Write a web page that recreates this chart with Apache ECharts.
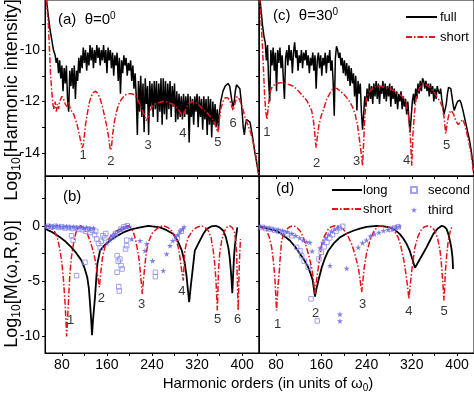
<!DOCTYPE html>
<html><head><meta charset="utf-8">
<script src="https://cdn.jsdelivr.net/npm/echarts@6/dist/echarts.min.js"></script>
<style>html,body{margin:0;padding:0;background:#fff}#c{width:474px;height:399px}</style>
</head><body><div id="c"></div>
<script>
// ---------- DATA ----------
const xLabelTicks = [80, 160, 240, 320, 400];
const xMinorTicks = [80, 120, 160, 200, 240, 280, 320, 360, 400];
const topYLabels = [-14, -12, -10];
const topYTicks = [-14, -13, -12, -11, -10, -9];
const botYLabels = [-10, -5, 0];
const botYTicks = [-10, -7.5, -5, -2.5, 0, 2.5];

// Panel (a): theta = 0
const fullA = [[50,-7.6],[53,-8.1],[56,-8.7],[59,-9.2],[62,-9.6],[65,-10.0],[68,-10.2],[70,-10.5],[72,-10.3],[74,-10.9],[76,-10.4],[78,-11.1],[80,-10.6],[82,-11.6],[84,-10.7],[86,-11.3],[88,-10.6],[90,-11.9],[92,-12.4],[94,-10.8],[96,-11.4],[98,-10.7],[100,-11.5],[102,-10.6],[104,-11.9],[106,-10.8],[108,-11.2],[110,-10.3],[112,-10.9],[114,-10.2],[116,-10.7],[118,-9.9],[120,-10.5],[122,-10.0],[124,-10.8],[126,-10.1],[128,-10.6],[130,-9.8],[132,-10.4],[134,-9.9],[136,-10.7],[138,-10.0],[140,-10.5],[142,-9.8],[144,-10.3],[146,-9.9],[148,-10.6],[150,-10.0],[152,-10.4],[154,-9.8],[156,-10.5],[158,-10.0],[160,-10.9],[162,-9.9],[164,-10.4],[166,-10.0],[168,-10.7],[170,-10.1],[172,-11.0],[174,-10.2],[176,-10.6],[178,-10.1],[180,-11.2],[182,-10.3],[184,-11.7],[186,-10.4],[188,-10.9],[190,-10.2],[192,-10.6],[194,-10.3],[196,-11.0],[198,-10.5],[200,-10.8],[202,-10.4],[204,-11.2],[206,-10.6],[208,-11.5],[210,-10.9],[212,-11.8],[214,-13.3],[216,-11.2],[218,-12.4],[220,-11.0],[222,-12.6],[224,-11.3],[226,-13.2],[228,-11.1],[230,-12.1],[232,-11.4],[234,-13.3],[236,-11.2],[238,-12.2],[240,-11.3],[242,-12.6],[244,-11.2],[246,-12.3],[248,-11.2],[250,-12.8],[252,-11.3],[254,-12.4],[256,-11.1],[258,-12.9],[260,-11.1],[262,-12.5],[264,-11.2],[266,-12.7],[268,-11.3],[270,-12.3],[272,-11.2],[274,-12.6],[276,-11.4],[278,-12.2],[280,-11.3],[282,-12.8],[284,-11.6],[286,-12.7],[288,-11.7],[290,-12.6],[292,-11.8],[294,-12.7],[296,-11.7],[298,-12.6],[300,-11.8],[302,-12.5],[304,-11.7],[306,-13.6],[308,-11.8],[310,-12.6],[312,-11.9],[314,-12.9],[316,-11.8],[318,-12.4],[320,-11.7],[322,-13.0],[324,-11.8],[326,-12.6],[328,-11.9],[330,-13.1],[332,-11.8],[334,-12.7],[336,-11.9],[338,-13.3],[340,-11.8],[342,-12.9],[344,-11.9],[346,-13.4],[348,-12.0],[350,-12.9],[352,-12.1],[354,-13.0],[356,-12.3],[358,-13.1],[360,-12.4],[362,-12.0],[364,-11.8],[366,-11.6],[368,-11.5],[370,-11.4],[372,-11.35],[375,-11.3],[378,-11.4],[380,-11.7],[382,-12.0],[384,-12.2],[386,-12.0],[388,-11.6],[390,-11.35],[393,-11.3],[396,-11.5],[398,-11.9],[400,-12.4],[402,-13.0],[404,-13.3],[406,-12.9],[408,-12.7],[411,-12.65],[414,-12.8],[418,-13.3],[422,-13.9],[426,-14.4],[430,-14.9]];
const shortA = [[50,-7.6],[53,-8.2],[56,-9.0],[58,-10.0],[60,-11.0],[62,-11.6],[64,-12.1],[66,-12.3],[68,-12.0],[70,-12.4],[72,-12.1],[74,-12.3],[76,-12.0],[78,-11.9],[80,-11.8],[83,-11.9],[86,-12.1],[89,-12.2],[92,-12.0],[95,-12.3],[98,-12.4],[101,-12.5],[104,-12.7],[107,-12.9],[110,-13.2],[113,-13.5],[116,-13.8],[118,-13.7],[120,-13.3],[122,-12.9],[125,-12.5],[128,-12.1],[132,-11.8],[136,-11.65],[140,-11.6],[144,-11.7],[148,-11.9],[152,-12.2],[156,-12.6],[160,-13.0],[163,-13.4],[166,-13.9],[168,-13.8],[170,-13.3],[173,-12.8],[177,-12.4],[181,-12.1],[186,-11.9],[192,-11.75],[198,-11.7],[204,-11.7],[210,-11.75],[214,-11.9],[218,-12.1],[222,-12.3],[226,-12.5],[230,-12.75],[233,-12.6],[236,-12.4],[240,-12.2],[246,-12.1],[252,-12.05],[258,-12.0],[264,-12.0],[270,-12.05],[276,-12.1],[282,-12.2],[288,-12.35],[292,-12.5],[295,-12.6],[298,-12.4],[302,-12.2],[307,-12.05],[313,-12.0],[318,-12.05],[324,-12.15],[330,-12.3],[336,-12.4],[342,-12.55],[348,-12.7],[352,-12.9],[355,-13.1],[357,-13.2],[359,-12.8],[362,-12.3],[366,-12.0],[370,-11.85],[374,-11.85],[378,-11.95],[381,-12.15],[384,-12.35],[387,-12.1],[391,-11.8],[395,-11.9],[400,-12.2],[405,-12.6],[410,-12.9],[415,-13.2],[420,-13.6],[425,-14.2],[430,-14.9]];
const notesA = [[117.5,-14.1,'1'],[167,-14.35,'2'],[233,-13.7,'3'],[295,-13.25,'4'],[357,-13.6,'5'],[384,-12.85,'6']];

// Panel (c): theta = 30
const fullC = [[50,-7.5],[53,-8.3],[56,-9.0],[59,-9.5],[61,-9.7],[63,-10.4],[65,-9.8],[67,-11.2],[69,-12.0],[71,-10.0],[73,-10.6],[75,-9.9],[77,-10.8],[79,-10.1],[81,-11.6],[83,-10.0],[85,-10.5],[87,-9.9],[89,-10.7],[91,-10.2],[93,-11.1],[95,-11.9],[97,-10.3],[99,-10.0],[101,-10.6],[103,-9.8],[105,-10.4],[107,-10.0],[109,-10.9],[111,-10.1],[113,-9.7],[115,-10.3],[117,-10.0],[119,-10.8],[121,-10.2],[123,-10.5],[125,-10.0],[127,-10.7],[129,-10.1],[131,-10.4],[133,-10.0],[135,-10.6],[137,-10.2],[139,-10.9],[141,-10.3],[143,-10.6],[145,-10.1],[147,-10.8],[149,-10.2],[151,-11.5],[153,-10.4],[155,-10.1],[157,-10.7],[159,-10.2],[161,-11.0],[163,-10.3],[165,-10.6],[167,-10.1],[169,-10.9],[171,-10.2],[173,-10.5],[175,-10.0],[177,-10.8],[179,-10.4],[181,-11.2],[183,-12.55],[185,-10.3],[187,-9.85],[189,-10.0],[191,-10.3],[193,-10.1],[195,-10.6],[197,-10.3],[199,-10.9],[201,-10.4],[203,-11.0],[205,-10.5],[207,-11.2],[209,-10.6],[211,-11.4],[213,-10.7],[215,-11.3],[217,-10.9],[219,-11.8],[221,-11.0],[223,-12.35],[225,-11.2],[227,-11.7],[229,-11.3],[231,-12.4],[233,-13.1],[235,-12.5],[237,-11.8],[239,-12.2],[241,-11.5],[243,-12.0],[245,-11.3],[247,-11.9],[249,-11.4],[251,-12.1],[253,-11.3],[255,-11.8],[257,-11.2],[259,-11.9],[261,-11.3],[263,-12.1],[265,-11.4],[267,-11.7],[269,-11.2],[271,-11.9],[273,-11.3],[275,-12.0],[277,-11.4],[279,-11.8],[281,-11.3],[283,-12.2],[285,-11.4],[287,-11.9],[289,-11.5],[291,-12.1],[293,-11.6],[295,-12.3],[297,-11.7],[299,-12.0],[301,-11.6],[303,-12.3],[305,-11.8],[307,-12.2],[309,-11.9],[311,-12.5],[313,-12.0],[315,-12.7],[317,-13.2],[319,-12.6],[321,-12.0],[323,-11.7],[325,-12.1],[327,-11.5],[329,-11.9],[331,-11.3],[333,-11.7],[335,-11.2],[337,-11.6],[339,-11.1],[341,-11.2],[343,-11.5],[345,-11.2],[347,-11.6],[349,-11.3],[351,-11.8],[353,-11.3],[355,-11.7],[357,-11.4],[359,-12.0],[361,-11.5],[363,-11.9],[365,-11.4],[367,-11.6],[369,-11.7],[371,-11.5],[373,-11.9],[375,-12.2],[377,-12.5],[379,-12.5],[381,-12.1],[383,-11.7],[385,-11.45],[387,-11.4],[389,-11.5],[391,-11.8],[393,-12.1],[395,-12.35],[397,-12.3],[399,-12.1],[401,-12.0],[403,-11.95],[405,-11.95],[407,-12.05],[410,-12.3],[413,-12.6],[416,-12.9],[419,-13.2],[422,-13.5],[425,-13.9],[428,-14.4],[430,-14.9]];
const shortC = [[50,-7.5],[53,-8.6],[56,-9.8],[58,-10.8],[60,-11.8],[62,-12.4],[64,-12.7],[66,-12.3],[68,-11.9],[70,-11.6],[73,-11.45],[77,-11.35],[82,-11.3],[87,-11.27],[92,-11.27],[98,-11.3],[104,-11.35],[110,-11.4],[116,-11.5],[122,-11.65],[128,-11.8],[134,-11.95],[139,-12.15],[143,-12.35],[146,-12.7],[148,-13.1],[150,-13.6],[151,-13.8],[153,-13.4],[156,-12.9],[160,-12.55],[164,-12.3],[170,-11.9],[176,-11.65],[180,-11.52],[184,-11.47],[188,-11.5],[194,-11.6],[200,-11.72],[205,-11.85],[210,-12.0],[215,-12.2],[220,-12.5],[224,-12.9],[227,-13.4],[230,-13.9],[233,-14.5],[235,-13.6],[237,-12.6],[240,-11.85],[244,-11.65],[250,-11.5],[257,-11.42],[264,-11.4],[272,-11.45],[281,-11.5],[290,-11.6],[298,-11.7],[305,-11.85],[310,-12.1],[314,-12.5],[317,-13.2],[320,-14.5],[322,-13.3],[325,-12.4],[328,-11.85],[333,-11.5],[340,-11.3],[346,-11.35],[352,-11.45],[358,-11.6],[364,-11.8],[370,-12.0],[374,-12.2],[377,-12.6],[380,-13.25],[383,-12.8],[386,-12.45],[390,-12.35],[394,-12.5],[398,-12.75],[402,-12.9],[406,-12.8],[410,-12.7],[414,-12.9],[418,-13.3],[422,-13.7],[426,-14.2],[430,-14.9]];
const notesC = [[64,-13.2,'1'],[152,-14.4,'2'],[222.6,-14.35,'3'],[311,-14.3,'4'],[381.6,-13.7,'5']];

// Panel (b): theta = 0
const longB = [[50,-0.27],[60,-0.5],[70,-0.8],[77,-1.05],[87,-1.45],[97,-1.95],[106,-2.5],[115,-3.15],[120,-3.8],[125,-4.65],[128,-5.7],[130,-7.05],[132,-8.5],[133.5,-9.9],[135,-8.7],[137,-7.5],[138.8,-6.45],[141,-4.8],[143,-3.45],[147.7,-2.25],[155,-1.8],[165,-1.35],[177,-0.95],[189,-0.6],[203,-0.33],[219,-0.15],[233.5,0],[254,-0.15],[266,-0.4],[278,-0.75],[286,-1.4],[293,-2.25],[298,-3.3],[301.6,-4.65],[304,-5.9],[306,-6.9],[309,-5.4],[312,-4.05],[316,-2.25],[325,-1.35],[331,-0.75],[337,-0.3],[345,-0.06],[353,0],[360,-0.15],[366.6,-0.45],[371,-1.0],[375.5,-1.95],[378,-2.9],[380,-4.05],[381.5,-5.1],[382.6,-6.1],[384,-4.5],[385.6,-2.85],[387,-1.9],[389,-1.05],[391.5,-0.15]];
const shortB = [[50,-0.1],[56,0],[62,-0.2],[68,-0.6],[73,-1.3],[77,-2.3],[80,-3.4],[83,-5.0],[86,-7.3],[88.5,-10],[91,-7.5],[94,-4.5],[97,-2.8],[101,-1.5],[105,-0.6],[110,-0.1],[114,0],[119,-0.2],[125,-0.7],[131,-1.5],[136,-2.4],[140,-3.3],[143,-4.4],[146.5,-5.55],[149,-4.3],[152,-2.9],[157,-1.8],[165,-1.05],[174,-0.55],[183,-0.3],[191,-0.08],[198,0],[203,-0.2],[207,-0.6],[211,-1.3],[215.7,-2.55],[218,-3.5],[220,-4.65],[222.8,-6.15],[225,-4.8],[227.6,-3.45],[230,-2.4],[233.4,-1.5],[240,-0.7],[248,-0.3],[254,-0.08],[260,0],[268,-0.15],[275,-0.45],[281,-1.0],[286.7,-1.95],[290,-3.0],[292.7,-4.05],[295.6,-4.95],[298,-2.4],[301,-1.6],[304.5,-1.05],[311,-0.5],[319,-0.15],[328,0],[334,-0.15],[340,-0.45],[345,-1.1],[348.8,-2.25],[351.5,-3.5],[353.6,-4.95],[356,-7.65],[358,-4.2],[360,-2.6],[363.7,-1.35],[368,-0.55],[372.6,-0.15],[378,0],[382,-0.15],[386,-0.45],[388.5,-1.3],[390.3,-2.55],[391.5,-4.95],[393,-7.65],[395,-3.5],[397,-1.2]];
const secondB = [[56,-0.05],[62,-0.1],[68,-0.05],[74,-0.15],[80,-0.1],[86,-0.2],[92,-0.15],[97,-0.9],[100,-1.3],[98,-0.25],[104,-0.2],[106,-4.5],[110,-0.3],[116,-0.35],[121,-3.3],[122,-0.5],[126,-0.3],[130,-0.6],[134,-0.4],[138,-0.8],[140,-0.5],[142,-1.2],[145,-1.6],[148,-2.0],[150,-1.4],[153,-0.9],[156,-1.1],[158,-0.7],[170,-1.0],[175,-0.7],[178,-2.7],[180,-3.2],[183,-3.0],[185,-3.6],[178,-4.2],[181,-5.5],[182,-5.9],[187,-3.9],[185,-0.3],[190,-0.1],[193,-2.1],[195,-1.8],[195,-1.3],[196,0],[246,-4.2],[246,-4.6],[285,-1.1],[292,-0.5]];
const thirdB = [[52,-0.05],[58,0],[64,-0.08],[70,0],[76,-0.05],[82,-0.1],[88,-0.05],[94,-0.1],[100,-0.08],[106,-0.15],[112,-0.1],[118,-0.2],[124,-0.15],[130,-0.25],[136,-0.2],[160,-1.6],[165,-1.3],[170,-0.95],[175,-0.7],[180,-0.5],[185,-0.35],[190,-0.2],[195,-0.1],[200,-0.05],[204,-1.2],[218.7,-1.35],[227.5,-2.25],[230.6,-1.65],[241,-3.15],[260,-4.05],[266,-2.55],[272,-1.8],[277,-1.35],[282,-1.0],[286,-0.8],[290,-0.5],[294,-0.3],[297,-0.1]];
const notesB = [[95.6,-8.55,'1'],[150,-6.6,'2'],[221.7,-7.1,'3'],[293,-5.9,'4'],[356.6,-8.5,'5'],[392,-8.5,'6']];

// Panel (d): theta = 30
const longD = [[50.5,-0.1],[65,-0.25],[81,-0.45],[93,-0.85],[105,-1.35],[114,-1.9],[122.5,-2.55],[130,-3.1],[137,-3.75],[141,-4.3],[145,-4.95],[147,-5.7],[149,-6.4],[151,-5.8],[155,-4.95],[161,-3.75],[166,-3.0],[172.5,-2.25],[182,-1.6],[193,-1.05],[205,-0.7],[216.6,-0.45],[228,-0.25],[240,-0.1],[258,0],[270,-0.05],[281.5,-0.15],[291,-0.4],[299,-0.75],[305,-1.15],[311,-1.65],[316,-2.2],[320,-2.85],[323,-3.35],[325.6,-3.8],[329,-3.5],[334.5,-3.0],[340,-2.5],[346,-1.95],[352,-1.35],[358,-0.75],[365,-0.3],[373,0],[378,-0.1],[381.6,-0.3],[385,-0.8],[387.5,-1.35],[390,-2.0],[392,-2.85],[393,-3.9]];
const shortD = [[51,0],[58,-0.15],[63.6,-0.45],[68,-1.0],[72.4,-1.95],[75,-3.0],[78,-4.65],[81,-7.65],[83.5,-5.5],[86,-4.05],[88,-2.5],[90,-1.35],[94,-0.7],[99,-0.3],[105,-0.08],[110.6,0],[116,-0.12],[122.5,-0.45],[128,-1.0],[134,-1.95],[138.5,-2.8],[143,-3.75],[146,-4.8],[149,-6.15],[152,-4.8],[155,-3.75],[158,-2.6],[161,-1.65],[166,-0.9],[172.5,-0.3],[178,-0.08],[184,0],[191,-0.08],[199,-0.3],[206,-0.8],[213.8,-1.65],[219,-2.5],[225.5,-3.75],[228.5,-4.8],[231.4,-6.0],[234,-4.8],[236,-3.75],[240,-2.5],[246,-1.35],[252,-0.6],[258,-0.15],[264,0],[272,-0.05],[281.5,-0.15],[289,-0.45],[296,-1.05],[301,-1.9],[306,-3.15],[309,-4.1],[312,-5.25],[315,-6.6],[317.5,-5.3],[320,-4.05],[323,-2.9],[325.6,-1.95],[331,-0.95],[337.5,-0.3],[343,-0.08],[349,0],[355,-0.12],[361,-0.45],[366,-1.2],[370,-2.25],[372.5,-3.5],[374.6,-4.95],[377,-6.75],[379.6,-4.0],[382,-2.5],[384.5,-1.35],[388,-0.5],[390.5,-0.15],[393,-0.3]];
const secondD = [[55,-0.15],[62,-0.25],[70,-0.3],[78,-0.4],[85,-0.5],[92,-0.6],[100,-0.75],[108,-0.9],[116.6,-1.95],[122.5,-2.25],[125.5,-2.7],[130,-3.2],[137,-3.75],[142,-6.6],[153,-8.6],[156,-3.0],[160,-2.4],[165,-1.9],[170,-1.5],[175,-1.1],[180,-0.8],[186,-0.5],[192,-0.2],[198,-0.05],[283,-0.3],[290,-0.2],[296,-0.1]];
const thirdD = [[52,-0.05],[60,-0.1],[68,-0.2],[76,-0.3],[84,-0.35],[92,-0.45],[100,-0.55],[108,-0.7],[115,-0.9],[122,-1.1],[128,-1.3],[134,-1.45],[140,-1.5],[144,-2.3],[158,-2.0],[163,-1.5],[168,-1.1],[173,-0.8],[178,-0.5],[184,-0.3],[190,-0.15],[175.5,-3.6],[193,-8.0],[193,-8.6],[205,-3.85],[225.5,-1.95],[233,-1.55],[240,-1.3],[247,-0.95],[254,-0.75],[262,-0.6],[270,-0.45],[278,-0.35],[286,-0.25],[292,-0.12],[298,-0.05]];
const notesD = [[83,-8.9,'1'],[150,-7.9,'2'],[233,-7.1,'3'],[315,-7.7,'4'],[377,-7.7,'5']];

// ---------- STYLE / BUILD ----------
const FONT = 'Liberation Sans, Arial, sans-serif';
const RED = '#e3141c';
const SQ = '#8a8af2';
const ST = '#5f5fe0';
const STAR = 'path://M50,0 L61,35 L98,35 L68,57 L79,91 L50,70 L21,91 L32,57 L2,35 L39,35 Z';
const DASHDOT = [6, 2, 1.5, 2];
const CLEAR = 'rgba(0,0,0,0)';

const grids = [
  {left: 45, top: -1, width: 214, height: 177},
  {left: 45, top: 176, width: 214, height: 177},
  {left: 259, top: -1, width: 216, height: 177},
  {left: 259, top: 176, width: 216, height: 177}
].map(g => Object.assign({show: true, borderColor: '#000', borderWidth: 1, containLabel: false}, g));

function xAx(i, labels) {
  return {type: 'value', gridIndex: i, min: 50, max: 430, splitLine: {show: false},
    axisLine: {show: true, onZero: false, lineStyle: {color: '#000', width: 1}},
    axisTick: {show: true, length: 3, lineStyle: {color: '#000'}, customValues: xMinorTicks},
    axisLabel: {show: labels, color: '#000', fontSize: 14, fontFamily: FONT, margin: 5, customValues: xLabelTicks}};
}
function yAx(i, top, labels) {
  return {type: 'value', gridIndex: i, min: top ? -14.9 : -11.5, max: top ? -8.05 : 4.5,
    splitLine: {show: false},
    axisLine: {show: true, onZero: false, lineStyle: {color: '#000', width: 1}},
    axisTick: {show: true, length: 3, lineStyle: {color: '#000'}, customValues: top ? topYTicks : botYTicks},
    axisLabel: {show: labels, color: '#000', fontSize: 14, fontFamily: FONT, margin: 5, customValues: top ? topYLabels : botYLabels}};
}

function line(name, data, i, red, w) {
  return {type: 'line', name, data, xAxisIndex: i, yAxisIndex: i, symbol: 'none', showSymbol: false,
    lineStyle: red ? {color: RED, width: 1.5, type: DASHDOT} : {color: '#000', width: w || 1.5},
    itemStyle: {color: red ? RED : '#000'}, z: red ? 3 : 2, animation: false};
}
function pts(name, data, i, star) {
  return {type: 'scatter', name, data, xAxisIndex: i, yAxisIndex: i,
    symbol: star ? STAR : 'rect', symbolSize: star ? 6 : 4.5,
    itemStyle: star ? {color: ST} : {color: 'rgba(255,255,255,0)', borderColor: SQ, borderWidth: 1},
    z: 4, animation: false};
}
function notes(data, i) {
  return {type: 'scatter', data, xAxisIndex: i, yAxisIndex: i, symbolSize: 1,
    itemStyle: {color: CLEAR}, silent: true, z: 5, animation: false,
    label: {show: true, position: 'inside', formatter: p => p.data[2], color: '#000', fontSize: 13, fontFamily: FONT}};
}

const rich = {
  a: {fontSize: 15, lineHeight: 18, fontFamily: FONT, color: '#000'},
  sup: {fontSize: 10, lineHeight: 10, padding: [0, 0, 8, 0], fontFamily: FONT, color: '#000'},
  sub: {fontSize: 10, lineHeight: 10, padding: [8, 0, 0, 0], fontFamily: FONT, color: '#000'},
  A: {fontSize: 18, lineHeight: 22, fontFamily: FONT, color: '#000'},
  SUB: {fontSize: 12, lineHeight: 12, padding: [10, 0, 0, 0], fontFamily: FONT, color: '#000'}
};
function txt(x, y, text, rot, align) {
  return {type: 'text', x, y, rotation: rot || 0, z: 10,
    style: {text, rich, align: align || 'left', verticalAlign: 'middle'}};
}
const legText = {fontSize: 13, fontFamily: FONT, color: '#000', lineHeight: 16};
const lineLegItem = {color: CLEAR, borderColor: CLEAR, borderWidth: 0};

const option = {
  animation: false,
  grid: grids,
  xAxis: [xAx(0, false), xAx(1, true), xAx(2, false), xAx(3, true)],
  yAxis: [yAx(0, true, true), yAx(1, false, true), yAx(2, true, false), yAx(3, false, false)],
  legend: [
    {data: ['full', 'short'], orient: 'vertical', left: 400, top: 4, padding: 5, itemWidth: 31, itemHeight: 14, itemGap: 4,
     selectedMode: false, itemStyle: lineLegItem, textStyle: Object.assign({padding: [0, 0, 0, -2]}, legText)},
    {data: ['long', 'short'], orient: 'vertical', left: 326, top: 177, padding: 5, itemWidth: 30, itemHeight: 14, itemGap: 3,
     selectedMode: false, itemStyle: lineLegItem, textStyle: Object.assign({padding: [0, 0, 0, -4]}, legText)},
    {data: ['second', 'third'], orient: 'vertical', left: 405, top: 177, padding: 5, itemWidth: 6, itemHeight: 6, itemGap: 4,
     selectedMode: false, textStyle: Object.assign({padding: [0, 0, 0, 6]}, legText)}
  ],
  series: [
    line('full', fullA, 0, false), line('short', shortA, 0, true), notes(notesA, 0),
    line('long', longB, 1, false, 1.8), line('short', shortB, 1, true),
    pts('second', secondB, 1, false), pts('third', thirdB, 1, true), notes(notesB, 1),
    line('full', fullC, 2, false), line('short', shortC, 2, true), notes(notesC, 2),
    line('long', longD, 3, false, 1.8), line('short', shortD, 3, true),
    pts('second', secondD, 3, false), pts('third', thirdD, 3, true), notes(notesD, 3)
  ],
  graphic: [
    txt(58, 20, '{a|(a)  θ=0}{sup|0}'),
    txt(273, 16, '{a|(c)  θ=30}{sup|0}'),
    txt(63, 197, '{a|(b)}'),
    txt(276, 189, '{a|(d)}'),
    txt(268, 384, '{a|Harmonic orders (in units of ω}{sub|0}{a|)}', 0, 'center'),
    txt(12, 100, '{A|Log}{SUB|10}{A|[Harmonic intensity]}', Math.PI / 2, 'center'),
    txt(12, 284, '{A|Log}{SUB|10}{A|[M(ω,R,θ)]}', Math.PI / 2, 'center')
  ]
};
const chart = echarts.init(document.getElementById('c'), null, {renderer: 'canvas'});
chart.setOption(option);
</script></body></html>
